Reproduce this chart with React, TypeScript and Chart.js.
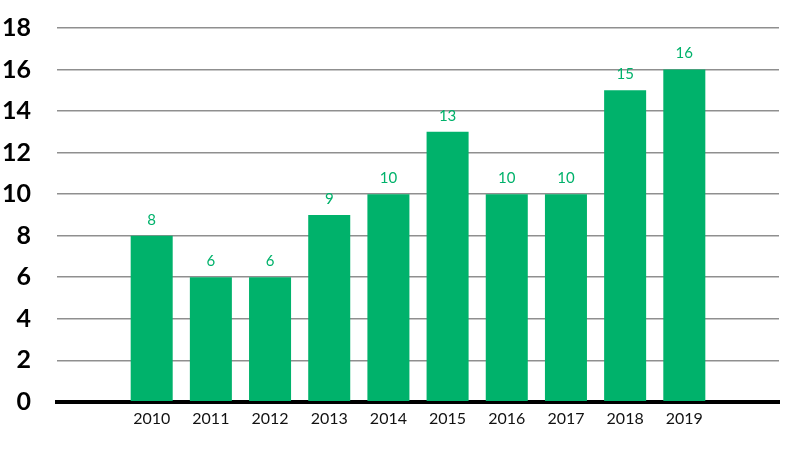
import React, { useEffect, useRef } from "react";
import { Chart, registerables } from "chart.js";

Chart.register(...registerables);

const years = [2010, 2011, 2012, 2013, 2014, 2015, 2016, 2017, 2018, 2019];
const counts = [8, 6, 6, 9, 10, 13, 10, 10, 15, 16];
const yTicks = [0, 2, 4, 6, 8, 10, 12, 14, 16, 18];

const GREEN = "#00b26b";

const valueLabels = {
  id: "valueLabels",
  afterDatasetsDraw(chart: any) {
    const ctx = chart.ctx;
    const meta = chart.getDatasetMeta(0);
    ctx.save();
    ctx.fillStyle = GREEN;
    ctx.font = "15px Lato";
    ctx.textAlign = "center";
    ctx.textBaseline = "middle";
    meta.data.forEach((bar: any, i: number) => {
      ctx.fillText(String(counts[i]), bar.x, bar.y - 16);
    });
    ctx.restore();
  },
};

export default function App() {
  const ref = useRef<HTMLCanvasElement>(null);
  useEffect(() => {
    document.body.style.margin = "0";
    const chart = new Chart(ref.current as HTMLCanvasElement, {
      type: "bar",
      data: {
        datasets: [
          {
            data: years.map((y, i) => ({ x: y, y: counts[i] })),
            backgroundColor: GREEN,
            borderWidth: 0,
            categoryPercentage: 1,
            barPercentage: 0.71,
          },
        ],
      },
      options: {
        animation: false,
        responsive: false,
        layout: { padding: { left: 0, right: 21, top: 28, bottom: 38 } },
        plugins: { legend: { display: false }, tooltip: { enabled: false } },
        scales: {
          x: {
            type: "linear",
            offset: false,
            min: 2008.4,
            max: 2020.6,
            afterBuildTicks: (scale: any) => {
              scale.ticks = years.map((v) => ({ value: v }));
            },
            grid: { display: false, drawTicks: false },
            border: { display: true, color: "#000", width: 4 },
            ticks: {
              autoSkip: false,
              maxRotation: 0,
              padding: 7,
              color: "#111",
              font: { family: "Lato", size: 16 },
              callback: (v: any) => String(v),
            },
          },
          y: {
            min: 0,
            max: 18,
            afterBuildTicks: (scale: any) => {
              scale.ticks = yTicks.map((v) => ({ value: v }));
            },
            afterFit: (scale: any) => {
              scale.width = 57;
              scale.paddingTop = 0;
              scale.paddingBottom = 0;
            },
            grid: {
              drawTicks: false,
              color: (c: any) => (c.tick && c.tick.value === 0 ? "rgba(0,0,0,0)" : "#8f8f8f"),
              lineWidth: 1.5,
            },
            border: { display: false },
            ticks: {
              padding: 26,
              color: "#000",
              font: { family: "Lato", size: 25, weight: "bold" },
            },
          },
        },
      },
      plugins: [valueLabels],
    } as any);
    return () => chart.destroy();
  }, []);
  return (
    <div style={{ width: 800, height: 473, background: "#fff" }}>
      <canvas ref={ref} width={800} height={473} style={{ display: "block" }} />
    </div>
  );
}
